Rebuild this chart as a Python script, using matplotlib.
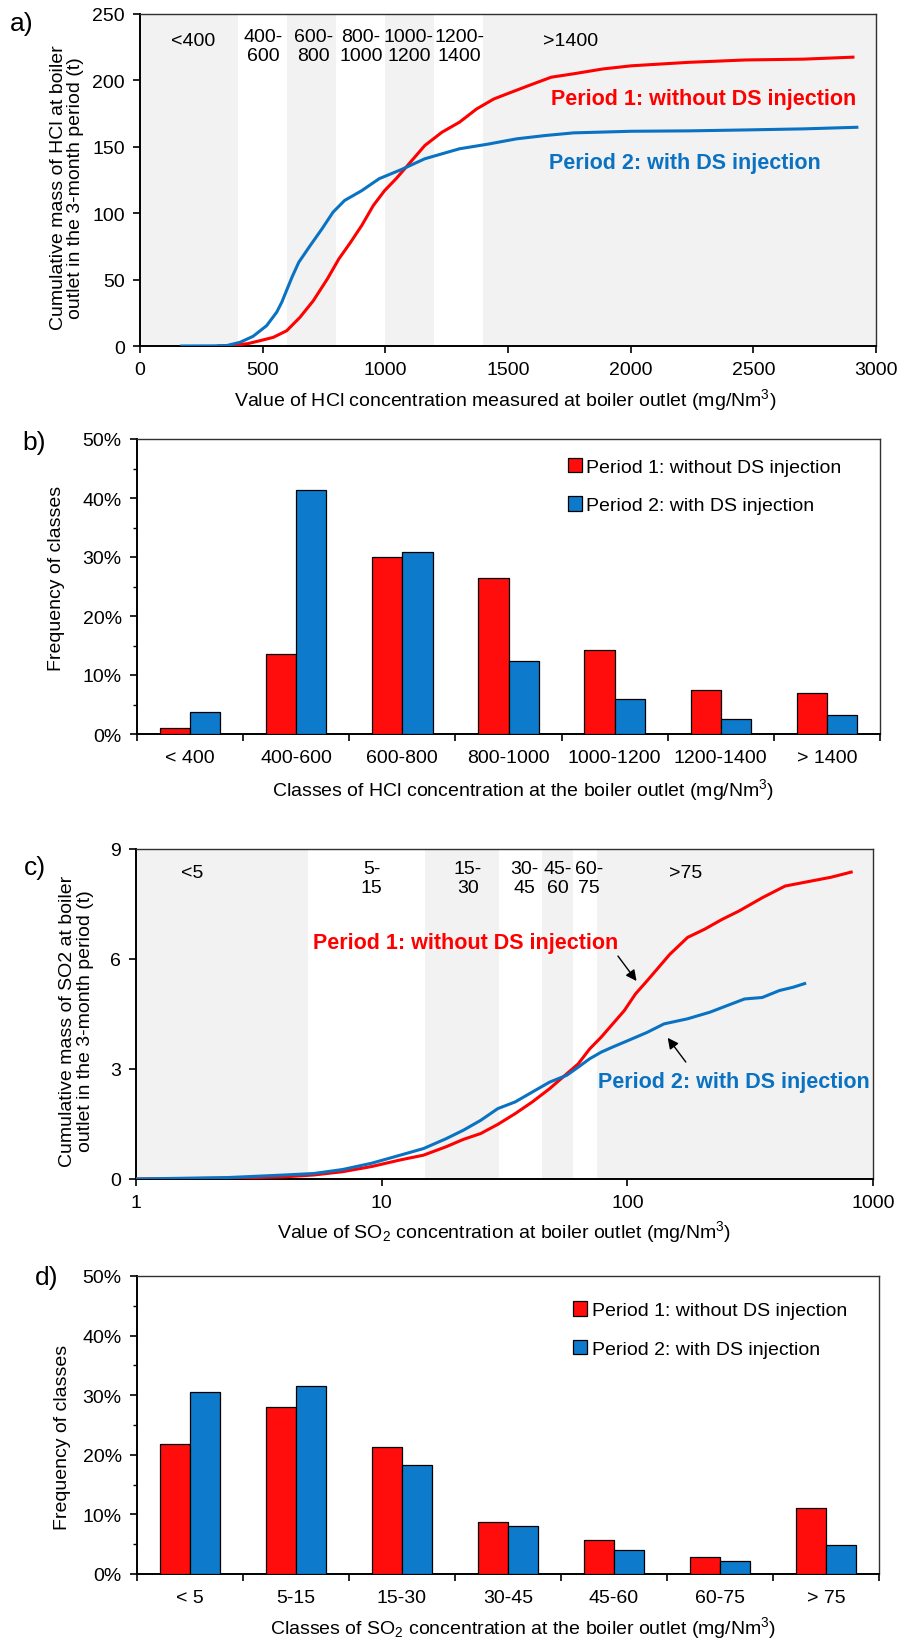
import matplotlib
matplotlib.use("Agg")
import matplotlib.pyplot as plt
from matplotlib.ticker import MultipleLocator, FuncFormatter, FixedLocator, NullLocator
import numpy as np

plt.rcParams['font.family'] = ['Liberation Sans', 'DejaVu Sans']
plt.rcParams['mathtext.fontset'] = 'custom'
plt.rcParams['mathtext.rm'] = 'Liberation Sans'
plt.rcParams['mathtext.it'] = 'Liberation Sans:italic'
plt.rcParams['mathtext.bf'] = 'Liberation Sans:bold'

# ---------------- data ----------------
# (a) cumulative HCl mass vs. HCl concentration
hcl_conc_p1 = [320, 380, 440, 489, 543, 598, 652, 706, 764, 811, 858, 904, 951, 997,
               1044, 1091, 1161, 1231, 1302, 1372, 1442, 1512, 1583, 1676, 1768, 1886,
               2003, 2236, 2470, 2704, 2906]
hcl_mass_p1 = [0, 0.5, 1.8, 4, 6.5, 11.5, 21.6, 34, 50.6, 65.7, 78, 90.8, 105.8, 117,
               126, 136, 151, 161, 168.5, 178.5, 186, 191, 196, 202.4, 205, 208.6,
               211, 213.6, 215.4, 216, 217.5]
hcl_conc_p2 = [170, 300, 353, 408, 461, 516, 557, 578, 600, 620, 647, 694, 741, 787,
               834, 904, 975, 1067, 1161, 1302, 1418, 1535, 1652, 1768, 2003, 2236,
               2470, 2704, 2922]
hcl_mass_p2 = [0, 0.1, 0.3, 2.8, 7.3, 15.3, 25.4, 33, 43, 52, 63, 75.7, 88, 100.8,
               109.6, 117, 126, 133, 141, 148.5, 152, 156, 158.5, 160.5, 161.7, 162,
               162.7, 163.5, 164.7]
hcl_bounds = [0, 400, 600, 800, 1000, 1200, 1400, 3000]
hcl_band_labels = ["<400", "400-\n600", "600-\n800", "800-\n1000", "1000-\n1200",
                   "1200-\n1400", ">1400"]
hcl_band_label_x = [215, 503, 706, 900, 1096, 1302, 1757]

# (b) class frequencies of HCl (%)
hcl_classes = ["< 400", "400-600", "600-800", "800-1000", "1000-1200", "1200-1400", "> 1400"]
hcl_freq_p1 = [1.0, 13.6, 30.0, 26.4, 14.3, 7.4, 7.0]
hcl_freq_p2 = [3.7, 41.4, 30.8, 12.3, 5.9, 2.5, 3.3]

# (c) cumulative SO2 mass vs. SO2 concentration
so2_conc_p1 = [1, 2.37, 4.05, 5.3, 6.95, 9.1, 11.9, 14.8, 18.3, 21.5, 25.3, 29.7, 34.9,
               41, 48.2, 56.7, 63.1, 70.3, 78.3, 87.2, 97.1, 108, 120.5, 134, 149, 176,
               206, 243, 285, 354, 439, 574, 675, 815]
so2_mass_p1 = [0, 0.02, 0.06, 0.11, 0.2, 0.34, 0.52, 0.65, 0.88, 1.08, 1.24, 1.49, 1.78,
               2.1, 2.46, 2.87, 3.14, 3.55, 3.87, 4.23, 4.59, 5.05, 5.41, 5.77, 6.13, 6.59,
               6.81, 7.08, 7.31, 7.67, 7.99, 8.14, 8.23, 8.37]
so2_conc_p2 = [1, 2.37, 4.05, 5.3, 6.95, 9.1, 11.9, 14.8, 18.3, 21.5, 25.3, 29.7, 34.9,
               41, 48.2, 56.7, 63.1, 70.3, 78.3, 87.2, 101, 120.5, 141, 176, 217, 255,
               300, 354, 416, 473, 527]
so2_mass_p2 = [0, 0.04, 0.11, 0.15, 0.26, 0.43, 0.65, 0.83, 1.1, 1.33, 1.6, 1.92, 2.1,
               2.37, 2.64, 2.83, 3.05, 3.28, 3.46, 3.6, 3.78, 4.0, 4.23, 4.37, 4.55, 4.73,
               4.91, 4.95, 5.14, 5.23, 5.33]
so2_bounds = [1, 5, 15, 30, 45, 60, 75, 1000]
so2_band_labels = ["<5", "5-\n15", "15-\n30", "30-\n45", "45-\n60", "60-\n75", ">75"]
so2_band_label_x = [1.69, 9.1, 22.4, 38.2, 52, 70, 172]

# (d) class frequencies of SO2 (%)
so2_classes = ["< 5", "5-15", "15-30", "30-45", "45-60", "60-75", "> 75"]
so2_freq_p1 = [21.8, 28.0, 21.3, 8.7, 5.7, 2.9, 11.0]
so2_freq_p2 = [30.6, 31.6, 18.3, 8.1, 4.0, 2.2, 4.9]

label_p1 = "Period 1: without DS injection"
label_p2 = "Period 2: with DS injection"

# ---------------- style ----------------
FS = 14
FS_BOLD = 15.5
RED_LINE = "#FF0000"
BLUE_LINE = "#0A72C2"
RED_BAR = "#FF0D0D"
BLUE_BAR = "#0E7ACB"
BAND = "#F2F2F2"

W, H = 899, 1640
fig = plt.figure(figsize=(W / 100, H / 100), dpi=100)


def px_axes(left, right, top, bottom):
    return fig.add_axes([left / W, 1 - bottom / H, (right - left) / W, (bottom - top) / H])


def style(ax):
    for s in ("left", "bottom"):
        ax.spines[s].set_linewidth(1.4)
        ax.spines[s].set_color("black")
    for s in ("top", "right"):
        ax.spines[s].set_linewidth(1.0)
        ax.spines[s].set_color("#303030")
    ax.tick_params(direction="out", length=5, width=1.2, labelsize=FS, pad=6,
                   top=False, right=False, color="black")


def bands(ax, bounds):
    for i in range(0, len(bounds) - 1, 2):
        ax.axvspan(bounds[i], bounds[i + 1], color=BAND, lw=0, zorder=0)


pct = FuncFormatter(lambda v, p: f"{v:.0f}%")

# ---------------- (a) ----------------
ax = px_axes(140, 876, 15, 347)
style(ax)
bands(ax, hcl_bounds)
ax.plot(hcl_conc_p1, hcl_mass_p1, color=RED_LINE, lw=2.2, zorder=3)
ax.plot(hcl_conc_p2, hcl_mass_p2, color=BLUE_LINE, lw=2.2, zorder=4)
ax.set_xlim(0, 3000)
ax.set_ylim(0, 250)
ax.xaxis.set_major_locator(MultipleLocator(500))
ax.yaxis.set_major_locator(MultipleLocator(50))
for lab, x in zip(hcl_band_labels, hcl_band_label_x):
    y = 230 if "\n" not in lab else 226
    ax.text(x, y, lab, ha="center", va="center", fontsize=FS, linespacing=1.15)
ax.text(2918, 186, label_p1, color=RED_LINE, fontsize=FS_BOLD, fontweight="bold",
        ha="right", va="center")
ax.text(1667, 138, label_p2, color=BLUE_LINE, fontsize=FS_BOLD, fontweight="bold",
        ha="left", va="center")
ax.set_xlabel("Value of HCl concentration measured at boiler outlet (mg/Nm$^3$)",
              fontsize=FS, va="center")
ax.xaxis.set_label_coords(0.496, -0.16)
ax.set_ylabel("Cumulative mass of HCl at boiler\noutlet in the 3-month period (t)",
              fontsize=FS, va="center", linespacing=1.05)
ax.yaxis.set_label_coords(-0.099, 0.48)


def bar_panel(ax, classes, p1, p2, legend_anchor):
    style(ax)
    x = np.arange(len(classes))
    w = 0.285
    ax.bar(x - w / 2, p1, w, color=RED_BAR, edgecolor="black", linewidth=0.9,
           label=label_p1, zorder=3)
    ax.bar(x + w / 2, p2, w, color=BLUE_BAR, edgecolor="black", linewidth=0.9,
           label=label_p2, zorder=3)
    ax.set_xlim(-0.5, len(classes) - 0.5)
    ax.set_ylim(0, 50)
    ax.xaxis.set_major_locator(FixedLocator(x))
    ax.set_xticklabels(classes)
    ax.tick_params(axis="x", which="major", length=0, pad=11)
    ax.xaxis.set_minor_locator(FixedLocator(np.arange(-0.5, len(classes), 1.0)))
    ax.tick_params(axis="x", which="minor", length=5, width=1.2, direction="out")
    ax.yaxis.set_major_locator(MultipleLocator(10))
    ax.yaxis.set_minor_locator(MultipleLocator(5))
    ax.tick_params(axis="y", which="minor", length=3, width=1.0, direction="out")
    ax.yaxis.set_major_formatter(pct)
    ax.legend(loc="upper left", bbox_to_anchor=legend_anchor, frameon=False, fontsize=FS,
              handlelength=0.7, handleheight=0.75, handletextpad=0.25, labelspacing=1.05,
              borderpad=0, borderaxespad=0)
    ax.set_ylabel("Frequency of classes", fontsize=FS, va="center")


# ---------------- (b) ----------------
ax = px_axes(137, 880, 440, 735)
bar_panel(ax, hcl_classes, hcl_freq_p1, hcl_freq_p2, (0.58, 0.935))
ax.set_xlabel("Classes of HCl concentration at the boiler outlet (mg/Nm$^3$)",
              fontsize=FS, va="center")
ax.xaxis.set_label_coords(0.52, -0.185)
ax.yaxis.set_label_coords(-0.108, 0.53)

# ---------------- (c) ----------------
ax = px_axes(136, 873, 850, 1180)
style(ax)
ax.set_xscale("log")
bands(ax, so2_bounds)
ax.plot(so2_conc_p1, so2_mass_p1, color=RED_LINE, lw=2.2, zorder=3)
ax.plot(so2_conc_p2, so2_mass_p2, color=BLUE_LINE, lw=2.2, zorder=4)
ax.set_xlim(1, 1000)
ax.set_ylim(0, 9)
ax.xaxis.set_major_locator(FixedLocator([1, 10, 100, 1000]))
ax.xaxis.set_major_formatter(FuncFormatter(lambda v, p: f"{v:.0f}"))
ax.xaxis.set_minor_locator(NullLocator())
ax.yaxis.set_major_locator(FixedLocator([0, 3, 6, 9]))
for lab, x in zip(so2_band_labels, so2_band_label_x):
    y = 8.37 if "\n" not in lab else 8.2
    ax.text(x, y, lab, ha="center", va="center", fontsize=FS, linespacing=1.15)
ax.text(5.25, 6.44, label_p1, color=RED_LINE, fontsize=FS_BOLD, fontweight="bold",
        ha="left", va="center")
ax.text(75.9, 2.65, label_p2, color=BLUE_LINE, fontsize=FS_BOLD, fontweight="bold",
        ha="left", va="center")
arrow = dict(arrowstyle="-|>", color="black", lw=1.0, mutation_scale=16,
             shrinkA=0, shrinkB=0)
ax.annotate("", xy=(109, 5.4), xytext=(91.6, 6.08), arrowprops=arrow, zorder=5)
ax.annotate("", xy=(146, 3.85), xytext=(173, 3.19), arrowprops=arrow, zorder=5)
ax.set_xlabel("Value of SO$_2$ concentration at boiler outlet (mg/Nm$^3$)",
              fontsize=FS, va="center")
ax.xaxis.set_label_coords(0.5, -0.157)
ax.set_ylabel("Cumulative mass of SO2 at boiler\noutlet in the 3-month period (t)",
              fontsize=FS, va="center", linespacing=1.05)
ax.yaxis.set_label_coords(-0.081, 0.48)

# ---------------- (d) ----------------
ax = px_axes(137, 879, 1277, 1575)
bar_panel(ax, so2_classes, so2_freq_p1, so2_freq_p2, (0.588, 0.915))
ax.set_xlabel("Classes of SO$_2$ concentration at the boiler outlet (mg/Nm$^3$)",
              fontsize=FS, va="center")
ax.xaxis.set_label_coords(0.52, -0.178)
ax.yaxis.set_label_coords(-0.1, 0.46)

# panel letters
for letter, (x, y) in zip(["a)", "b)", "c)", "d)"],
                          [(22, 24), (34, 443), (35, 868), (47, 1278)]):
    fig.text(x / W, 1 - y / H, letter, fontsize=19, ha="center", va="center")

fig.savefig("out.png", dpi=100)
